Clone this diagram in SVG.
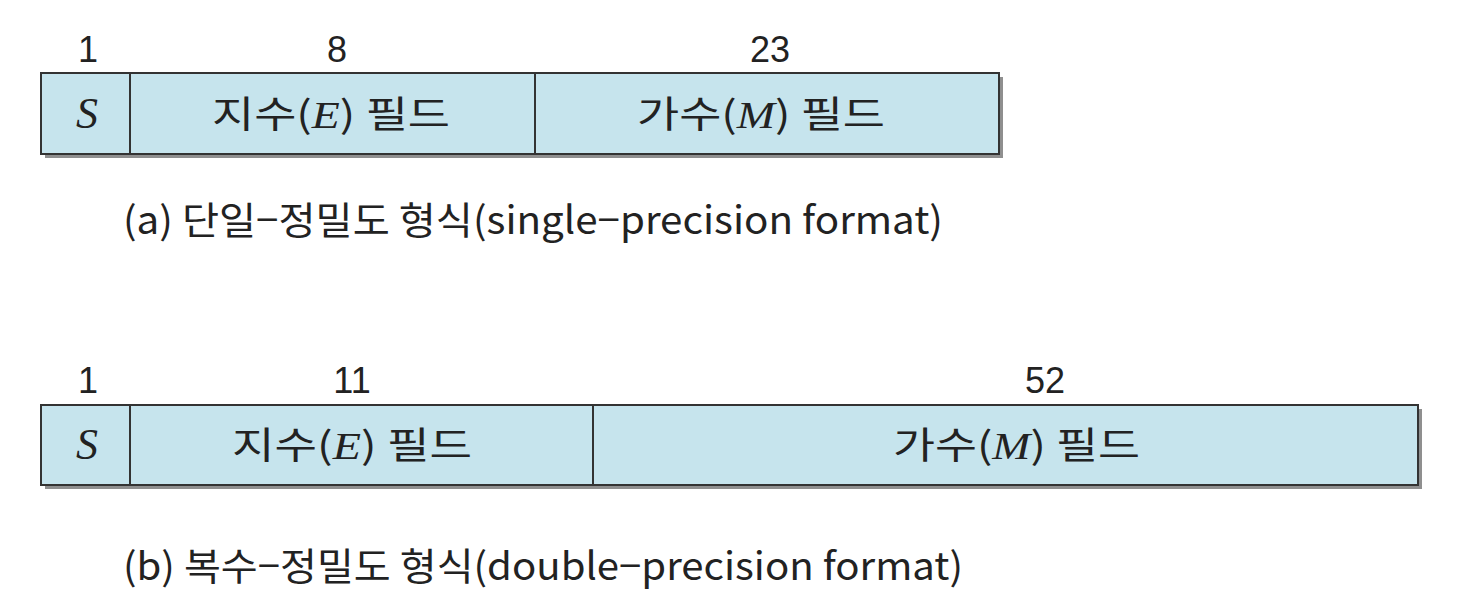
<svg xmlns="http://www.w3.org/2000/svg" width="1470" height="604" viewBox="0 0 1470 604">
<style>
.box{fill:#c6e4ed;stroke:#333;stroke-width:2}
.shadow{fill:#8f8f8f}
.div{stroke:#333;stroke-width:2}
.num{font-family:"Liberation Sans","Noto Sans CJK KR",sans-serif;font-size:36px;fill:#222;text-anchor:middle}
.lbl{font-family:"Noto Sans CJK KR","Liberation Sans",sans-serif;font-size:37px;fill:#222}
.it{font-family:"Liberation Serif",serif;font-style:italic}
.s{font-family:"Liberation Serif",serif;font-style:italic;font-size:44px;fill:#222;text-anchor:middle}
.cap{font-family:"Noto Sans CJK KR","Liberation Sans",sans-serif;font-size:38px;fill:#222}
</style>
<rect width="1470" height="604" fill="#fff"/>
<g id="single">
<rect class="shadow" x="45" y="77" width="958" height="81"/>
<rect class="box" x="41" y="73" width="958" height="81"/>
<line class="div" x1="130" y1="73" x2="130" y2="154"/>
<line class="div" x1="535" y1="73" x2="535" y2="154"/>
<text class="num" x="88" y="62">1</text>
<text class="num" x="337" y="62">8</text>
<text class="num" x="770" y="62">23</text>
<text class="s" x="87" y="128">S</text>
<text class="lbl" x="212" y="128" textLength="238" lengthAdjust="spacingAndGlyphs">지수(<tspan class="it">E</tspan>)  필드</text>
<text class="lbl" x="637" y="128" textLength="248" lengthAdjust="spacingAndGlyphs">가수(<tspan class="it">M</tspan>)  필드</text>
<text class="cap" x="123" y="234" textLength="820" lengthAdjust="spacingAndGlyphs">(a) 단일−정밀도 형식(single−precision format)</text>
</g>
<g id="double">
<rect class="shadow" x="45" y="409" width="1377" height="80"/>
<rect class="box" x="41" y="405" width="1377" height="80"/>
<line class="div" x1="130" y1="405" x2="130" y2="485"/>
<line class="div" x1="593" y1="405" x2="593" y2="485"/>
<text class="num" x="88" y="393">1</text>
<text class="num" x="352" y="393">11</text>
<text class="num" x="1045" y="393">52</text>
<text class="s" x="87" y="459">S</text>
<text class="lbl" x="232" y="459" textLength="240" lengthAdjust="spacingAndGlyphs">지수(<tspan class="it">E</tspan>)  필드</text>
<text class="lbl" x="893" y="459" textLength="247" lengthAdjust="spacingAndGlyphs">가수(<tspan class="it">M</tspan>)  필드</text>
<text class="cap" x="123" y="580" textLength="840" lengthAdjust="spacingAndGlyphs">(b) 복수−정밀도 형식(double−precision format)</text>
</g>
<g id="connectors"></g>
</svg>
